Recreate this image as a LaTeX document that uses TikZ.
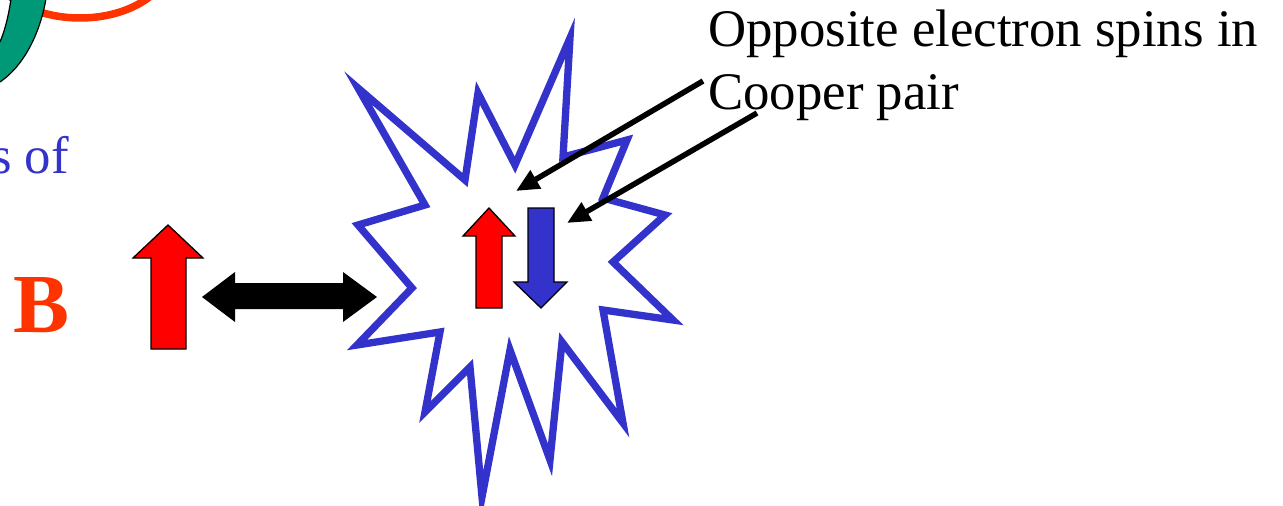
\documentclass[tikz,border=0pt]{standalone}
\usepackage{fontspec}
\setmainfont{Liberation Serif}
\usetikzlibrary{arrows.meta}
\definecolor{starblue}{RGB}{51,51,204}
\definecolor{spinred}{RGB}{255,0,0}
\definecolor{fieldred}{RGB}{255,51,0}
\definecolor{ringgreen}{RGB}{0,153,119}
\begin{document}
\begin{tikzpicture}[x=1pt,y=-1pt,
  bigtext/.style={font=\fontsize{52.8}{63}\selectfont, inner sep=0pt, anchor=base west},
  spinshape/.style={draw=black, line width=1.3pt, line join=miter},
  leader/.style={line width=5.5pt, -{Triangle[length=23pt,width=20pt]}},
  starline/.style={draw=starblue, line width=7.3pt, line join=miter, miter limit=10}]
\useasboundingbox (0,0) rectangle (1283,506);
% top-left ring fragments
\draw[fieldred, line width=7.5pt] (80,-40) ellipse [x radius=90, y radius=58];
\fill[ringgreen] (-5,85) -- (0,82) .. controls (25,65) and (42,30) .. (47,-8) -- (12,-8) .. controls (9,15) and (5,30) .. (0,42) -- (-5,42) -- cycle;
\draw[black, line width=1.2pt] (0,82) .. controls (25,65) and (42,30) .. (47,-8);
\draw[black, line width=1.2pt] (12,-8) .. controls (9,15) and (5,30) .. (0,42);
% texts
\node[bigtext, text=starblue] (sof) at (-9,173) {s of};
\node[inner sep=0pt, anchor=base west, text=fieldred, font=\fontsize{84}{90}\selectfont\bfseries] (B) at (13,332) {B};
\node[bigtext] (t1) at (708,46) {Opposite electron spins in};
\node[bigtext] (t2) at (708,109) {Cooper pair};
% big spin arrow
\path[spinshape, fill=spinred] (168,225) -- (203,258) -- (186,258) -- (186,349) -- (151,349) -- (151,258) -- (133,258) -- cycle;
% double arrow
\fill[black] (202,297) -- (235,272) -- (235,283) -- (343,283) -- (343,272) -- (377,297) -- (343,322) -- (343,309) -- (235,309) -- (235,322) -- cycle;
% star
\path[starline] (570,38) -- (563,157) -- (627,140) -- (603,198) -- (665,215) -- (613,262) -- (673,320) -- (603,310) -- (623,423) -- (562,342) -- (550,460) -- (510,350) -- (482,497) -- (470,367) -- (425,412) -- (440,332) -- (357,345) -- (412,288) -- (358,225) -- (425,205) -- (358,88) -- (465,180) -- (478,93) -- (515,165) -- cycle;
% cooper pair spins
\path[spinshape, fill=spinred] (489,208) -- (515,236) -- (502,236) -- (502,308) -- (476,308) -- (476,236) -- (463,236) -- cycle;
\path[spinshape, fill=starblue] (528,208) -- (554,208) -- (554,282) -- (567,282) -- (541,308) -- (514,282) -- (528,282) -- cycle;
% leaders
\coordinate (s1) at (703,81);
\coordinate (s2) at (757,113);
\coordinate (h1) at (516,191);
\coordinate (h2) at (567,223);
\draw[leader] (s1) -- (h1);
\draw[leader] (s2) -- (h2);
\end{tikzpicture}
\end{document}
